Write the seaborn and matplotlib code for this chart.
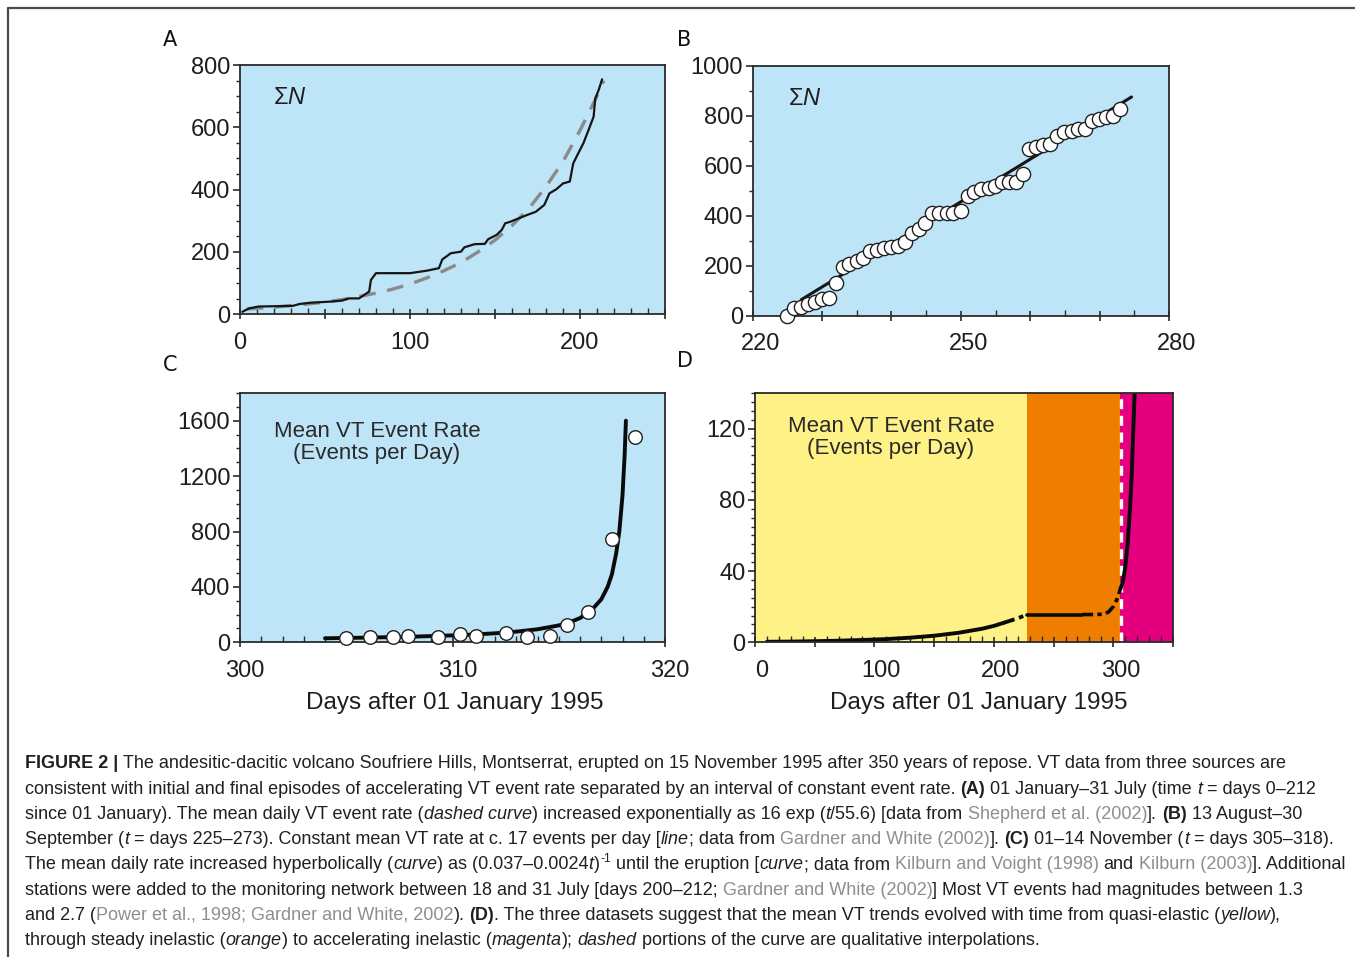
import matplotlib
matplotlib.use("Agg")
import matplotlib.pyplot as plt
import seaborn as sns
import numpy as np
from matplotlib.ticker import MultipleLocator, FuncFormatter
from matplotlib.lines import Line2D
from matplotlib.transforms import ScaledTranslation

# ---------------- data ----------------
# Panel A: cumulative VT events, days 0-212
a_days = [1.4, 5.3, 11, 31, 35, 41, 54, 60, 64, 70, 73, 76, 77, 80, 90, 100, 110, 117, 119, 124,
          130, 132, 138, 144, 146, 151, 154, 156, 159, 164, 169, 174, 179, 182, 186, 190, 194,
          196, 199, 202, 205, 208, 209, 211, 213]
a_cum = [8, 19, 25, 27, 33, 37, 41, 44, 51, 51, 62, 73, 110, 132, 132, 132, 140, 148, 176, 196,
         201, 215, 225, 226, 241, 255, 271, 292, 297, 308, 319, 329, 351, 388, 401, 420, 426,
         484, 517, 549, 591, 634, 693, 720, 754]
a_fit_days = [4, 10, 20, 30, 40, 50, 60, 70, 80, 90, 100, 110, 120, 130, 140, 150, 160, 170,
              180, 190, 200, 210, 214]
a_fit = [17, 19, 23, 28, 33, 39, 47, 57, 68, 81, 97, 117, 140, 166, 200, 238, 285, 340, 410,
         490, 590, 700, 750]

# Panel B: cumulative VT events, days 225-273
b_days = [224.9, 226.0, 227.0, 227.9, 229.0, 230.0, 231.0, 232.0, 233.0, 233.9, 235.0, 235.9,
          236.9, 237.9, 238.9, 239.9, 241.0, 242.0, 242.9, 244.0, 244.9, 245.9, 246.9, 248.0,
          248.9, 250.0, 251.0, 251.9, 252.9, 254.0, 254.9, 255.9, 256.9, 257.9, 259.0, 259.8,
          260.9, 261.9, 262.9, 263.9, 264.9, 266.0, 266.9, 267.9, 268.9, 269.9, 270.9, 272.0,
          272.9]
b_cum = [0, 33, 37, 47, 57, 67, 73, 130, 194, 206, 220, 233, 260, 264, 270, 274, 280, 294, 330,
         346, 370, 410, 410, 410, 413, 419, 479, 497, 506, 513, 519, 537, 537, 537, 566, 667,
         676, 683, 687, 719, 736, 739, 746, 746, 780, 787, 794, 799, 826]
b_fit_days = [227.0, 274.6]
b_fit = [65, 875]

# Panel C: mean VT event rate, days 305-318
c_days = [305.0, 306.1, 307.2, 307.9, 309.3, 310.35, 311.1, 312.5, 313.5, 314.6, 315.4, 316.4,
          317.5, 318.6]
c_rate = [29, 41, 41, 46, 36, 58, 46, 70, 41, 48, 125, 217, 743, 1485]
c_fit_days = [304.0, 306.0, 308.0, 310.0, 311.0, 312.0, 313.0, 314.0, 315.0, 315.5, 316.0,
              316.5, 317.0, 317.3, 317.5, 317.7, 317.85, 318.0, 318.1, 318.16]
c_fit = [29, 34, 40, 50, 56, 65, 77, 94, 122, 143, 175, 225, 310, 400, 490, 640, 800, 1060,
         1350, 1600]

# Panel D: schematic mean VT rate over the whole year
d1_days = [10, 30, 50, 70, 90, 110, 130, 150, 170, 190, 200, 208]
d1_rate = [0.3, 0.4, 0.6, 0.9, 1.3, 1.8, 2.6, 3.7, 5.3, 7.6, 9.2, 10.9]
d2_days = [208, 215, 222, 228]
d2_rate = [10.9, 12.4, 14.0, 15.7]
d3_days = [228, 274]
d3_rate = [15.6, 15.6]
d4_days = [274, 285, 292, 296, 300, 303, 306]
d4_rate = [15.6, 15.6, 15.8, 17.0, 20.0, 24.0, 30.0]
d5_days = [306, 308, 310, 312, 314, 315.5, 317, 318]
d5_rate = [30, 34, 42, 55, 75, 95, 124, 142]
phase_edges = [0, 228, 306, 350]
phase_colors = ["#FEF186", "#EF7D00", "#E4007C"]
eruption_day = 306.4

# ---------------- style ----------------
sns.set_theme(style="ticks")
plt.rcParams["font.family"] = ["Liberation Sans", "DejaVu Sans"]
plt.rcParams["mathtext.fontset"] = "custom"
plt.rcParams["mathtext.rm"] = "Liberation Sans"
plt.rcParams["mathtext.it"] = "Liberation Sans:italic"

INK = "#1e1e1e"
BLUE = "#BEE4F8"
TICK_FS = 17
fig = plt.figure(figsize=(13.55, 9.57), dpi=100)
fig.patch.set_facecolor("white")

W, H = 1355.0, 957.0


def rect(l, t, r, b):
    return [l / W, 1 - b / H, (r - l) / W, (b - t) / H]


axA = fig.add_axes(rect(240, 65, 665, 314.3))
axB = fig.add_axes(rect(752.7, 65.7, 1169, 316))
axC = fig.add_axes(rect(240, 393, 665, 642.3))
axD = fig.add_axes(rect(755, 393, 1173, 642.3))


def style_axes(ax, xmaj, xmin, ymaj, ymin, xlabel_every=None, x0=0):
    for s in ax.spines.values():
        s.set_visible(True)
        s.set_color("#2a2a2a")
        s.set_linewidth(1.3)
    ax.xaxis.set_major_locator(MultipleLocator(xmaj))
    ax.xaxis.set_minor_locator(MultipleLocator(xmin))
    ax.yaxis.set_major_locator(MultipleLocator(ymaj))
    ax.yaxis.set_minor_locator(MultipleLocator(ymin))
    if xlabel_every:
        ax.xaxis.set_major_formatter(FuncFormatter(
            lambda v, p: f"{v:.0f}" if abs(((v - x0) / xlabel_every) - round((v - x0) / xlabel_every)) < 1e-6 else ""))
    ax.yaxis.set_major_formatter(FuncFormatter(lambda v, p: f"{v:.0f}"))
    ax.tick_params(axis="x", which="major", direction="inout", length=7, width=1.2,
                   color="#2a2a2a", labelsize=TICK_FS, pad=9, labelcolor=INK)
    ax.tick_params(axis="x", which="minor", direction="in", length=4, width=1.0, color="#2a2a2a")
    ax.tick_params(axis="y", which="major", direction="out", length=5, width=1.2,
                   color="#2a2a2a", labelsize=TICK_FS, pad=2, labelcolor=INK)
    ax.tick_params(axis="y", which="minor", direction="out", length=3, width=1.0, color="#2a2a2a")
    ax.tick_params(top=False, right=False, which="both")


def shift_xlabels(ax, dx_px):
    off = ScaledTranslation(dx_px / 100.0, 0, fig.dpi_scale_trans)
    for lab in ax.get_xticklabels():
        lab.set_transform(lab.get_transform() + off)


# ---------- Panel A ----------
axA.set_facecolor(BLUE)
sns.lineplot(x=a_fit_days, y=a_fit, ax=axA, color="#8a8a8a", linewidth=2.4,
             linestyle=(0, (5, 3.5)), estimator=None, sort=False)
sns.lineplot(x=a_days, y=a_cum, ax=axA, color="#151515", linewidth=1.6,
             estimator=None, sort=False)
axA.set_xlim(0, 250)
axA.set_ylim(0, 800)
style_axes(axA, 50, 10, 200, 50, xlabel_every=100)
axA.text(0.078, 0.867, r"$\mathrm{\Sigma}\mathit{N}$", transform=axA.transAxes,
         fontsize=17, color=INK, va="center", ha="left")

# ---------- Panel B ----------
axB.set_facecolor(BLUE)
sns.lineplot(x=b_fit_days, y=b_fit, ax=axB, color="#151515", linewidth=2.2,
             estimator=None, sort=False)
sns.scatterplot(x=b_days, y=b_cum, ax=axB, s=105, color="white", edgecolor="#202020",
                linewidth=1.0, zorder=3, clip_on=False)
axB.set_xlim(220, 280)
axB.set_ylim(0, 1000)
style_axes(axB, 10, 5, 200, 100, xlabel_every=30, x0=220)
axB.text(0.084, 0.867, r"$\mathrm{\Sigma}\mathit{N}$", transform=axB.transAxes,
         fontsize=17, color=INK, va="center", ha="left")

# ---------- Panel C ----------
axC.set_facecolor(BLUE)
sns.lineplot(x=c_fit_days, y=c_fit, ax=axC, color="#0a0a0a", linewidth=2.8,
             estimator=None, sort=False)
sns.scatterplot(x=c_days, y=c_rate, ax=axC, s=95, color="white", edgecolor="#202020",
                linewidth=1.0, zorder=3, clip_on=False)
axC.set_xlim(300, 320)
axC.set_ylim(0, 1800)
style_axes(axC, 10, 1, 400, 100)
axC.text(0.322, 0.80, "Mean VT Event Rate\n(Events per Day)", transform=axC.transAxes,
         fontsize=16, color="#2a2a2a", ha="center", va="center", linespacing=1.05)
axC.set_xlabel("Days after 01 January 1995", fontsize=17.5, color=INK, labelpad=6)

# ---------- Panel D ----------
for i, c in enumerate(phase_colors):
    axD.axvspan(phase_edges[i], phase_edges[i + 1], color=c, lw=0, zorder=0)
axD.axvline(eruption_day, color="white", linewidth=2.4, linestyle=(0, (3, 2)), zorder=2)
sns.lineplot(x=d1_days, y=d1_rate, ax=axD, color="#0a0a0a", linewidth=2.8,
             estimator=None, sort=False)
sns.lineplot(x=d2_days, y=d2_rate, ax=axD, color="#0a0a0a", linewidth=2.8,
             linestyle=(0, (3, 1.2, 1.2, 1.2)), estimator=None, sort=False)
sns.lineplot(x=d3_days, y=d3_rate, ax=axD, color="#0a0a0a", linewidth=2.6,
             estimator=None, sort=False)
sns.lineplot(x=d4_days, y=d4_rate, ax=axD, color="#0a0a0a", linewidth=2.6,
             linestyle=(0, (3, 1.2, 1.2, 1.2)), estimator=None, sort=False)
sns.lineplot(x=d5_days, y=d5_rate, ax=axD, color="#0a0a0a", linewidth=2.8,
             estimator=None, sort=False)
axD.set_xlim(0, 350)
axD.set_ylim(0, 140)
style_axes(axD, 50, 10, 40, 5, xlabel_every=100)
axD.text(0.325, 0.82, "Mean VT Event Rate\n(Events per Day)", transform=axD.transAxes,
         fontsize=16, color="#2a2a2a", ha="center", va="center", linespacing=1.05)
axD.set_xlabel("Days after 01 January 1995", fontsize=17.5, color=INK, labelpad=6)
axD.xaxis.set_label_coords(0.535, -0.2)
axC.xaxis.set_label_coords(0.505, -0.2)

for ax in (axA, axB, axC, axD):
    ax.set_ylabel("")
    if ax not in (axC, axD):
        ax.set_xlabel("")

fig.canvas.draw()
shift_xlabels(axB, 8)
shift_xlabels(axC, 5)
shift_xlabels(axD, 7)

# panel letters
for lab, x, y in [("A", 163, 40), ("B", 677, 40), ("C", 163, 365), ("D", 677, 361)]:
    fig.text(x / W, 1 - y / H, lab, fontsize=15, color="#111111", ha="left", va="center",
             family=["DejaVu Sans"])

# frame lines
fig.add_artist(Line2D([8 / W, 1.0], [1 - 8 / H, 1 - 8 / H], color="#4a4a4a", lw=1.6,
                      transform=fig.transFigure))
fig.add_artist(Line2D([8 / W, 8 / W], [1 - 8 / H, 0], color="#4a4a4a", lw=1.6,
                      transform=fig.transFigure))

# ---------------- caption ----------------
caption = [
    [("b", "FIGURE 2 |"), ("n", " The andesitic-dacitic volcano Soufriere Hills, Montserrat, erupted on 15 November 1995 after 350 years of repose. VT data from three sources are")],
    [("n", "consistent with initial and final episodes of accelerating VT event rate separated by an interval of constant event rate. "), ("b", "(A)"), ("n", " 01 January\u201331 July (time "), ("i", "t"), ("n", " = days 0\u2013212")],
    [("n", "since 01 January). The mean daily VT event rate ("), ("i", "dashed curve"), ("n", ") increased exponentially as 16 exp ("), ("i", "t"), ("n", "/55.6) [data from "), ("g", "Shepherd et al. (2002)"), ("n", "]. "), ("b", "(B)"), ("n", " 13 August\u201330")],
    [("n", "September ("), ("i", "t"), ("n", " = days 225\u2013273). Constant mean VT rate at c. 17 events per day ["), ("i", "line"), ("n", "; data from "), ("g", "Gardner and White (2002)"), ("n", "]. "), ("b", "(C)"), ("n", " 01\u201314 November ("), ("i", "t"), ("n", " = days 305\u2013318).")],
    [("n", "The mean daily rate increased hyperbolically ("), ("i", "curve"), ("n", ") as (0.037\u20130.0024"), ("i", "t"), ("n", ")"), ("s", "-1"), ("n", " until the eruption ["), ("i", "curve"), ("n", "; data from "), ("g", "Kilburn and Voight (1998)"), ("n", " and "), ("g", "Kilburn (2003)"), ("n", "]. Additional")],
    [("n", "stations were added to the monitoring network between 18 and 31 July [days 200\u2013212; "), ("g", "Gardner and White (2002)"), ("n", "] Most VT events had magnitudes between 1.3")],
    [("n", "and 2.7 ("), ("g", "Power et al., 1998; Gardner and White, 2002"), ("n", "). "), ("b", "(D)"), ("n", ". The three datasets suggest that the mean VT trends evolved with time from quasi-elastic ("), ("i", "yellow"), ("n", "),")],
    [("n", "through steady inelastic ("), ("i", "orange"), ("n", ") to accelerating inelastic ("), ("i", "magenta"), ("n", "); "), ("i", "dashed"), ("n", " portions of the curve are qualitative interpolations.")],
]
line_base = [768, 794, 819, 844, 869, 895, 920, 945]
line_right = [1294, 1316, 1298, 1338, 1340, 1316, 1284, 1034]

capax = fig.add_axes([0, 0, 1, 1])
capax.set_xlim(0, 1)
capax.set_ylim(0, 1)
capax.axis("off")


def build_caption(fs):
    arts = []
    lasts = []
    for segs, yb in zip(caption, line_base):
        yf = 1 - yb / H
        prev = None
        pending = 0
        for kind, txt in segs:
            lead = len(txt) - len(txt.lstrip(" "))
            trail = len(txt) - len(txt.rstrip(" "))
            core = txt.strip(" ")
            gap = (pending + lead) * fs * 0.278
            kw = dict(fontsize=fs, color="#231F20", family=["Liberation Sans", "DejaVu Sans"])
            y_here = yf
            if kind == "b":
                kw["fontweight"] = "bold"
            elif kind == "i":
                kw["fontstyle"] = "italic"
            elif kind == "g":
                kw["color"] = "#8E8E8E"
            elif kind == "s":
                kw["fontsize"] = fs * 0.68
                y_here = yf + 6.5 / H
                gap += 0.6
            if prev is None:
                a = capax.text(25 / W, yf, core, ha="left", va="baseline",
                               transform=fig.transFigure, **kw)
            else:
                a = capax.annotate(core, xy=(1, y_here), xycoords=(prev, "figure fraction"),
                                   xytext=(gap, 0), textcoords="offset points", ha="left",
                                   va="baseline", annotation_clip=False, **kw)
            arts.append(a)
            prev = a
            pending = trail
        lasts.append(prev)
    return arts, lasts


fs0 = 12.0
arts, lasts = build_caption(fs0)
fig.canvas.draw()
r = fig.canvas.get_renderer()
ratios = []
for a, tr in zip(lasts, line_right):
    ratios.append((tr - 25) / (a.get_window_extent(r).x1 - 25))
scale = float(np.mean(ratios))
for a in arts:
    a.remove()
arts, lasts = build_caption(fs0 * scale)

fig.savefig("out.png", dpi=100, facecolor="white")
